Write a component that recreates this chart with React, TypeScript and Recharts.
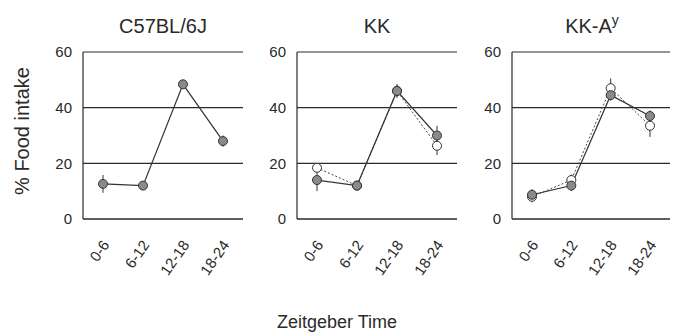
import React from 'react'
import { LineChart, Line, XAxis, YAxis, CartesianGrid, ErrorBar } from 'recharts'

const categories = ['0-6', '6-12', '12-18', '18-24']
const yTicks = [0, 20, 40, 60]

// C57BL/6J
const c57Filled = [12.6, 12, 48.4, 28]
const c57FilledErr = [3.2, 0.8, 1, 2]

// KK
const kkFilled = [14, 12, 46, 30]
const kkFilledErr = [4, 1, 2.5, 3.5]
const kkOpen = [18.4, 12, 46, 26.3]
const kkOpenErr = [1.5, 1, 2, 3.3]

// KK-Ay
const kkayFilled = [8.7, 12, 44.5, 37]
const kkayFilledErr = [2, 2, 2, 2]
const kkayOpen = [8, 14, 47, 33.5]
const kkayOpenErr = [2, 2, 3.5, 4]

const font = '"Liberation Sans", Arial, sans-serif'
const ink = '#2a2a2a'

const XTick = (props: any) => {
  const { x, y, payload } = props
  const tx = x + 7
  const ty = y + 18
  return (
    <text
      x={tx}
      y={ty}
      textAnchor="end"
      fontSize={15}
      fontFamily={font}
      fill={ink}
      transform={`rotate(-55, ${tx}, ${ty})`}
    >
      {payload.value}
    </text>
  )
}

interface PanelProps {
  left: number
  width: number
  yWidth: number
  rightMargin: number
  filled: number[]
  filledErr: number[]
  open?: number[]
  openErr?: number[]
}

function Panel({ left, width, yWidth, rightMargin, filled, filledErr, open, openErr }: PanelProps) {
  const data = categories.map((c, i) => ({
    cat: c,
    f: filled[i],
    fe: filledErr[i],
    o: open ? open[i] : undefined,
    oe: openErr ? openErr[i] : undefined
  }))

  return (
    <div style={{ position: 'absolute', left, top: 0 }}>
      <LineChart
        width={width}
        height={300}
        data={data}
        margin={{ top: 52, right: rightMargin, left: 0, bottom: 0 }}
      >
        <CartesianGrid vertical={false} stroke={ink} strokeWidth={1.2} />
        <XAxis
          dataKey="cat"
          height={81}
          padding={{ left: 20, right: 20 }}
          tick={<XTick />}
          tickLine={false}
          axisLine={{ stroke: ink, strokeWidth: 1.2 }}
          interval={0}
        />
        <YAxis
          width={yWidth}
          domain={[0, 60]}
          ticks={yTicks}
          tickLine={false}
          tickSize={9}
          tickMargin={2}
          axisLine={{ stroke: ink, strokeWidth: 1.2 }}
          tick={{ fontSize: 15, fontFamily: font, fill: ink }}
        />
        <YAxis
          yAxisId="r"
          orientation="right"
          width={0}
          domain={[0, 60]}
          tick={false}
          tickLine={false}
          axisLine={{ stroke: ink, strokeWidth: 1.2 }}
        />
        {open && (
          <Line
            dataKey="o"
            type="linear"
            stroke="#444"
            strokeWidth={1}
            strokeDasharray="2 2"
            dot={{ r: 4.5, fill: '#fff', stroke: '#333', strokeWidth: 1, strokeDasharray: '0' }}
            isAnimationActive={false}
          >
            <ErrorBar dataKey="oe" width={0} stroke="#333" strokeWidth={1} direction="y" />
          </Line>
        )}
        <Line
          dataKey="f"
          type="linear"
          stroke="#333"
          strokeWidth={1.2}
          dot={{ r: 4.5, fill: '#8a8a8a', stroke: '#333', strokeWidth: 1 }}
          isAnimationActive={false}
        >
          <ErrorBar dataKey="fe" width={0} stroke="#333" strokeWidth={1} direction="y" />
        </Line>
      </LineChart>
    </div>
  )
}

const titleStyle: React.CSSProperties = {
  position: 'absolute',
  top: 14,
  fontSize: 20,
  fontFamily: font,
  color: ink,
  textAlign: 'center',
  width: 160,
  lineHeight: '24px'
}

export default function App() {
  return (
    <div style={{ position: 'absolute', left: 0, top: 0, width: 682, height: 334, background: '#fff', overflow: 'hidden' }}>
      <Panel left={0} width={250} yWidth={83} rightMargin={7} filled={c57Filled} filledErr={c57FilledErr} />
      <Panel left={250} width={214} yWidth={47} rightMargin={7} filled={kkFilled} filledErr={kkFilledErr} open={kkOpen} openErr={kkOpenErr} />
      <Panel left={464} width={218} yWidth={48} rightMargin={12} filled={kkayFilled} filledErr={kkayFilledErr} open={kkayOpen} openErr={kkayOpenErr} />

      <div style={{ ...titleStyle, left: 83 }}>C57BL/6J</div>
      <div style={{ ...titleStyle, left: 297 }}>KK</div>
      <div style={{ ...titleStyle, left: 512 }}>
        KK-A<span style={{ fontSize: 14, verticalAlign: 'super', lineHeight: 0 }}>y</span>
      </div>

      <div
        style={{
          position: 'absolute',
          left: 22 - 80,
          top: 131 - 12,
          width: 160,
          height: 24,
          lineHeight: '24px',
          textAlign: 'center',
          fontSize: 20,
          fontFamily: font,
          color: ink,
          transform: 'rotate(-90deg)'
        }}
      >
        % Food intake
      </div>

      <div
        style={{
          position: 'absolute',
          left: 237,
          top: 311,
          width: 200,
          textAlign: 'center',
          fontSize: 18,
          fontFamily: font,
          color: ink,
          lineHeight: '22px'
        }}
      >
        Zeitgeber Time
      </div>
    </div>
  )
}
